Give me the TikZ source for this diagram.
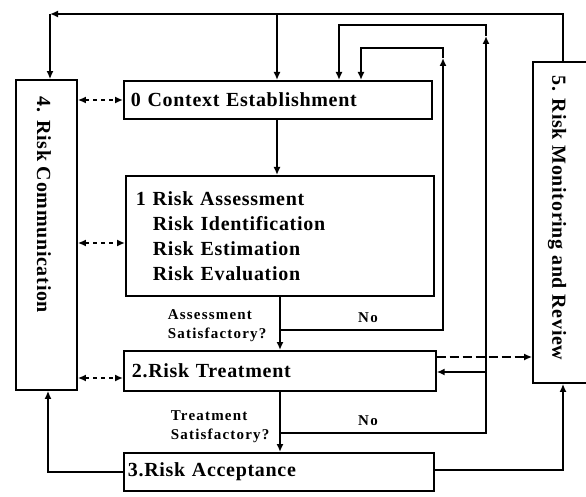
\documentclass[tikz,border=0pt]{standalone}
\usepackage{fontspec}
\setmainfont{Liberation Serif}[LetterSpace=3.5]
\newfontfamily\lblfont{Liberation Serif}[LetterSpace=8]
\usetikzlibrary{arrows.meta}
\begin{document}
\begin{tikzpicture}[x=1pt,y=-1pt,
  line width=1.7pt,
  shp/.style={draw, line width=1.7pt, rectangle, inner sep=0pt},
  box/.style={draw, line width=1.7pt, rectangle, anchor=north west, inner ysep=0pt, align=left,
    font=\bfseries\fontsize{20}{25}\selectfont},
  vtxt/.style={rotate=-90, inner sep=0pt, font=\bfseries\fontsize{20}{25}\selectfont},
  arr/.style={-{Latex[length=8pt,width=7pt]}},
  darr/.style={{Latex[length=8pt,width=7pt]}-{Latex[length=8pt,width=7pt]}, dash pattern=on 4pt off 4pt},
  lbl/.style={font=\lblfont\bfseries\fontsize{15}{19}\selectfont, align=left, inner sep=0pt},
]
\useasboundingbox (0,0) rectangle (586,497);
\clip (0,0) rectangle (586,497);
\fill[white] (0,0) rectangle (586,497);

% side boxes
\node[shp, minimum width=61, minimum height=310] (L) at (46.5,235) {};
\node[vtxt] (Lt) at (44,205) {4. Risk Communication};
\node[shp, minimum width=59, minimum height=321] (R) at (562.5,222.5) {};
\node[vtxt] (Rt) at (557,218) {5. Risk Monitoring and Review};

% main boxes
\node[box, inner xsep=7pt, text width=294pt, minimum height=38pt] (B0) at (123,80) {0 Context Establishment};
\node[box, inner xsep=10pt, text width=288pt, minimum height=120pt] (B1) at (125,175)
  {1 Risk Assessment\\\hspace*{17pt}Risk Identification\\\hspace*{17pt}Risk Estimation\\\hspace*{17pt}Risk Evaluation};
\node[box, inner xsep=8pt, text width=296pt, minimum height=40pt] (B2) at (123,350) {2.Risk Treatment};
\node[box, inner xsep=4pt, text width=302pt, minimum height=38pt] (B3) at (123,452) {3.Risk Acceptance};

% labels
\node[lbl, anchor=west] (qa) at (167,326) {Assessment\\Satisfactory?};
\node[lbl] (na) at (368,318) {No};
\node[lbl, anchor=west] (qt) at (170,427) {Treatment\\Satisfactory?};
\node[lbl] (nt) at (368,421) {No};

% coordinates
\coordinate (tR) at (563,14);
\coordinate (tL) at (50,14);
\coordinate (b0) at (277,14);
\coordinate (d) at (280,330);
\coordinate (a1) at (443,330);
\coordinate (a1m) at (443,58);
\coordinate (a2) at (443,48);
\coordinate (a3) at (361,48);
\coordinate (e) at (280,433);
\coordinate (t1) at (486,433);
\coordinate (t1m) at (486,36);
\coordinate (t2) at (486,25);
\coordinate (t3) at (339,25);
\coordinate (t4) at (486,372);
\coordinate (f) at (0,357);
\coordinate (g) at (563,470);
\coordinate (h) at (48,472);
\coordinate (k1) at (0,100);
\coordinate (k2) at (0,243);
\coordinate (k3) at (0,378);

% top loop
\draw[arr] (R.north -| tR) -- (tR) -- (tL);
\draw[arr] (tL) -- (L.north -| tL);
\draw[arr] (b0) -- (b0 |- B0.north);

% main flow
\draw[arr] (b0 |- B0.south) -- (b0 |- B1.north);
\draw[arr] (d |- B1.south) -- (d |- B2.north);
\draw[arr] (e |- B2.south) -- (e |- B3.north);

% assessment not satisfactory
\draw[arr] (d) -- (a1) -- (a1m);
\draw[arr] (a1m) -- (a2) -- (a3) -- (a3 |- B0.north);

% treatment not satisfactory
\draw[arr] (e) -- (t1) -- (t1m);
\draw[arr] (t1m) -- (t2) -- (t3) -- (t3 |- B0.north);
\draw[arr] (t4) -- (t4 -| B2.east);

% treatment to monitoring
\draw[arr, dash pattern=on 9pt off 4pt] (f -| B2.east) -- (f -| R.west);

% acceptance
\draw[arr] (g -| B3.east) -- (g) -- (g |- R.south);
\draw[arr] (h -| B3.west) -- (h) -- (h |- L.south);

% communication
\draw[darr] (k1 -| L.east) -- (k1 -| B0.west);
\draw[darr] (k2 -| L.east) -- (k2 -| B1.west);
\draw[darr] (k3 -| L.east) -- (k3 -| B2.west);
\end{tikzpicture}
\end{document}
